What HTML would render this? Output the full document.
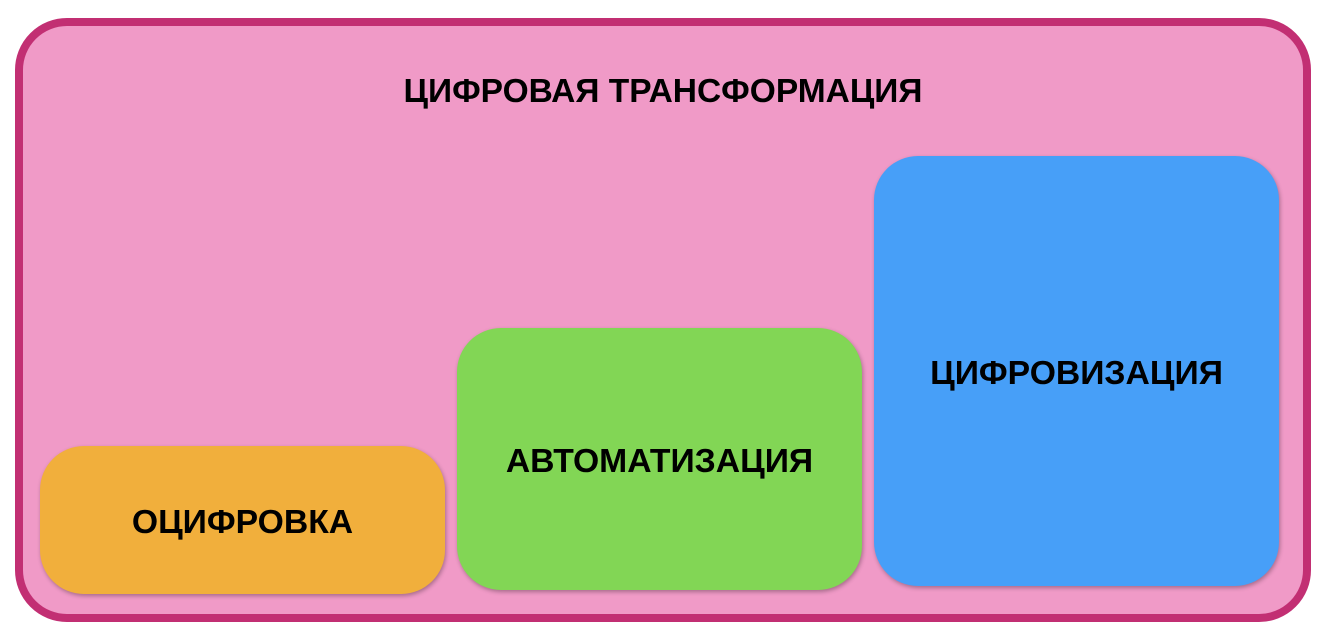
<!DOCTYPE html>
<html><head><meta charset="utf-8"><style>
body{margin:0;width:1326px;height:640px;background:#fff;position:relative;overflow:hidden;font-family:"Liberation Sans",sans-serif;}
.o{position:absolute;left:15px;top:18px;width:1280px;height:588px;border:8px solid #c22f73;border-radius:52px;background:#f09ac7;}
.b{position:absolute;box-sizing:border-box;padding-top:5px;border-radius:44px;display:flex;align-items:center;justify-content:center;font-weight:bold;font-size:33.7px;color:#000;box-shadow:1px 2px 4px rgba(0,0,0,0.3);}
.t{position:absolute;left:0;width:1326px;top:73px;text-align:center;font-weight:bold;font-size:33.5px;}
</style></head><body>
<div class="o"></div>
<div class="t">ЦИФРОВАЯ ТРАНСФОРМАЦИЯ</div>
<div class="b" style="left:40px;top:446px;width:405px;height:148px;background:#f1af3c;">ОЦИФРОВКА</div>
<div class="b" style="left:457px;top:328px;width:405px;height:262px;background:#82d655;">АВТОМАТИЗАЦИЯ</div>
<div class="b" style="left:874px;top:156px;width:405px;height:430px;background:#479ff8;">ЦИФРОВИЗАЦИЯ</div>
</body></html>
